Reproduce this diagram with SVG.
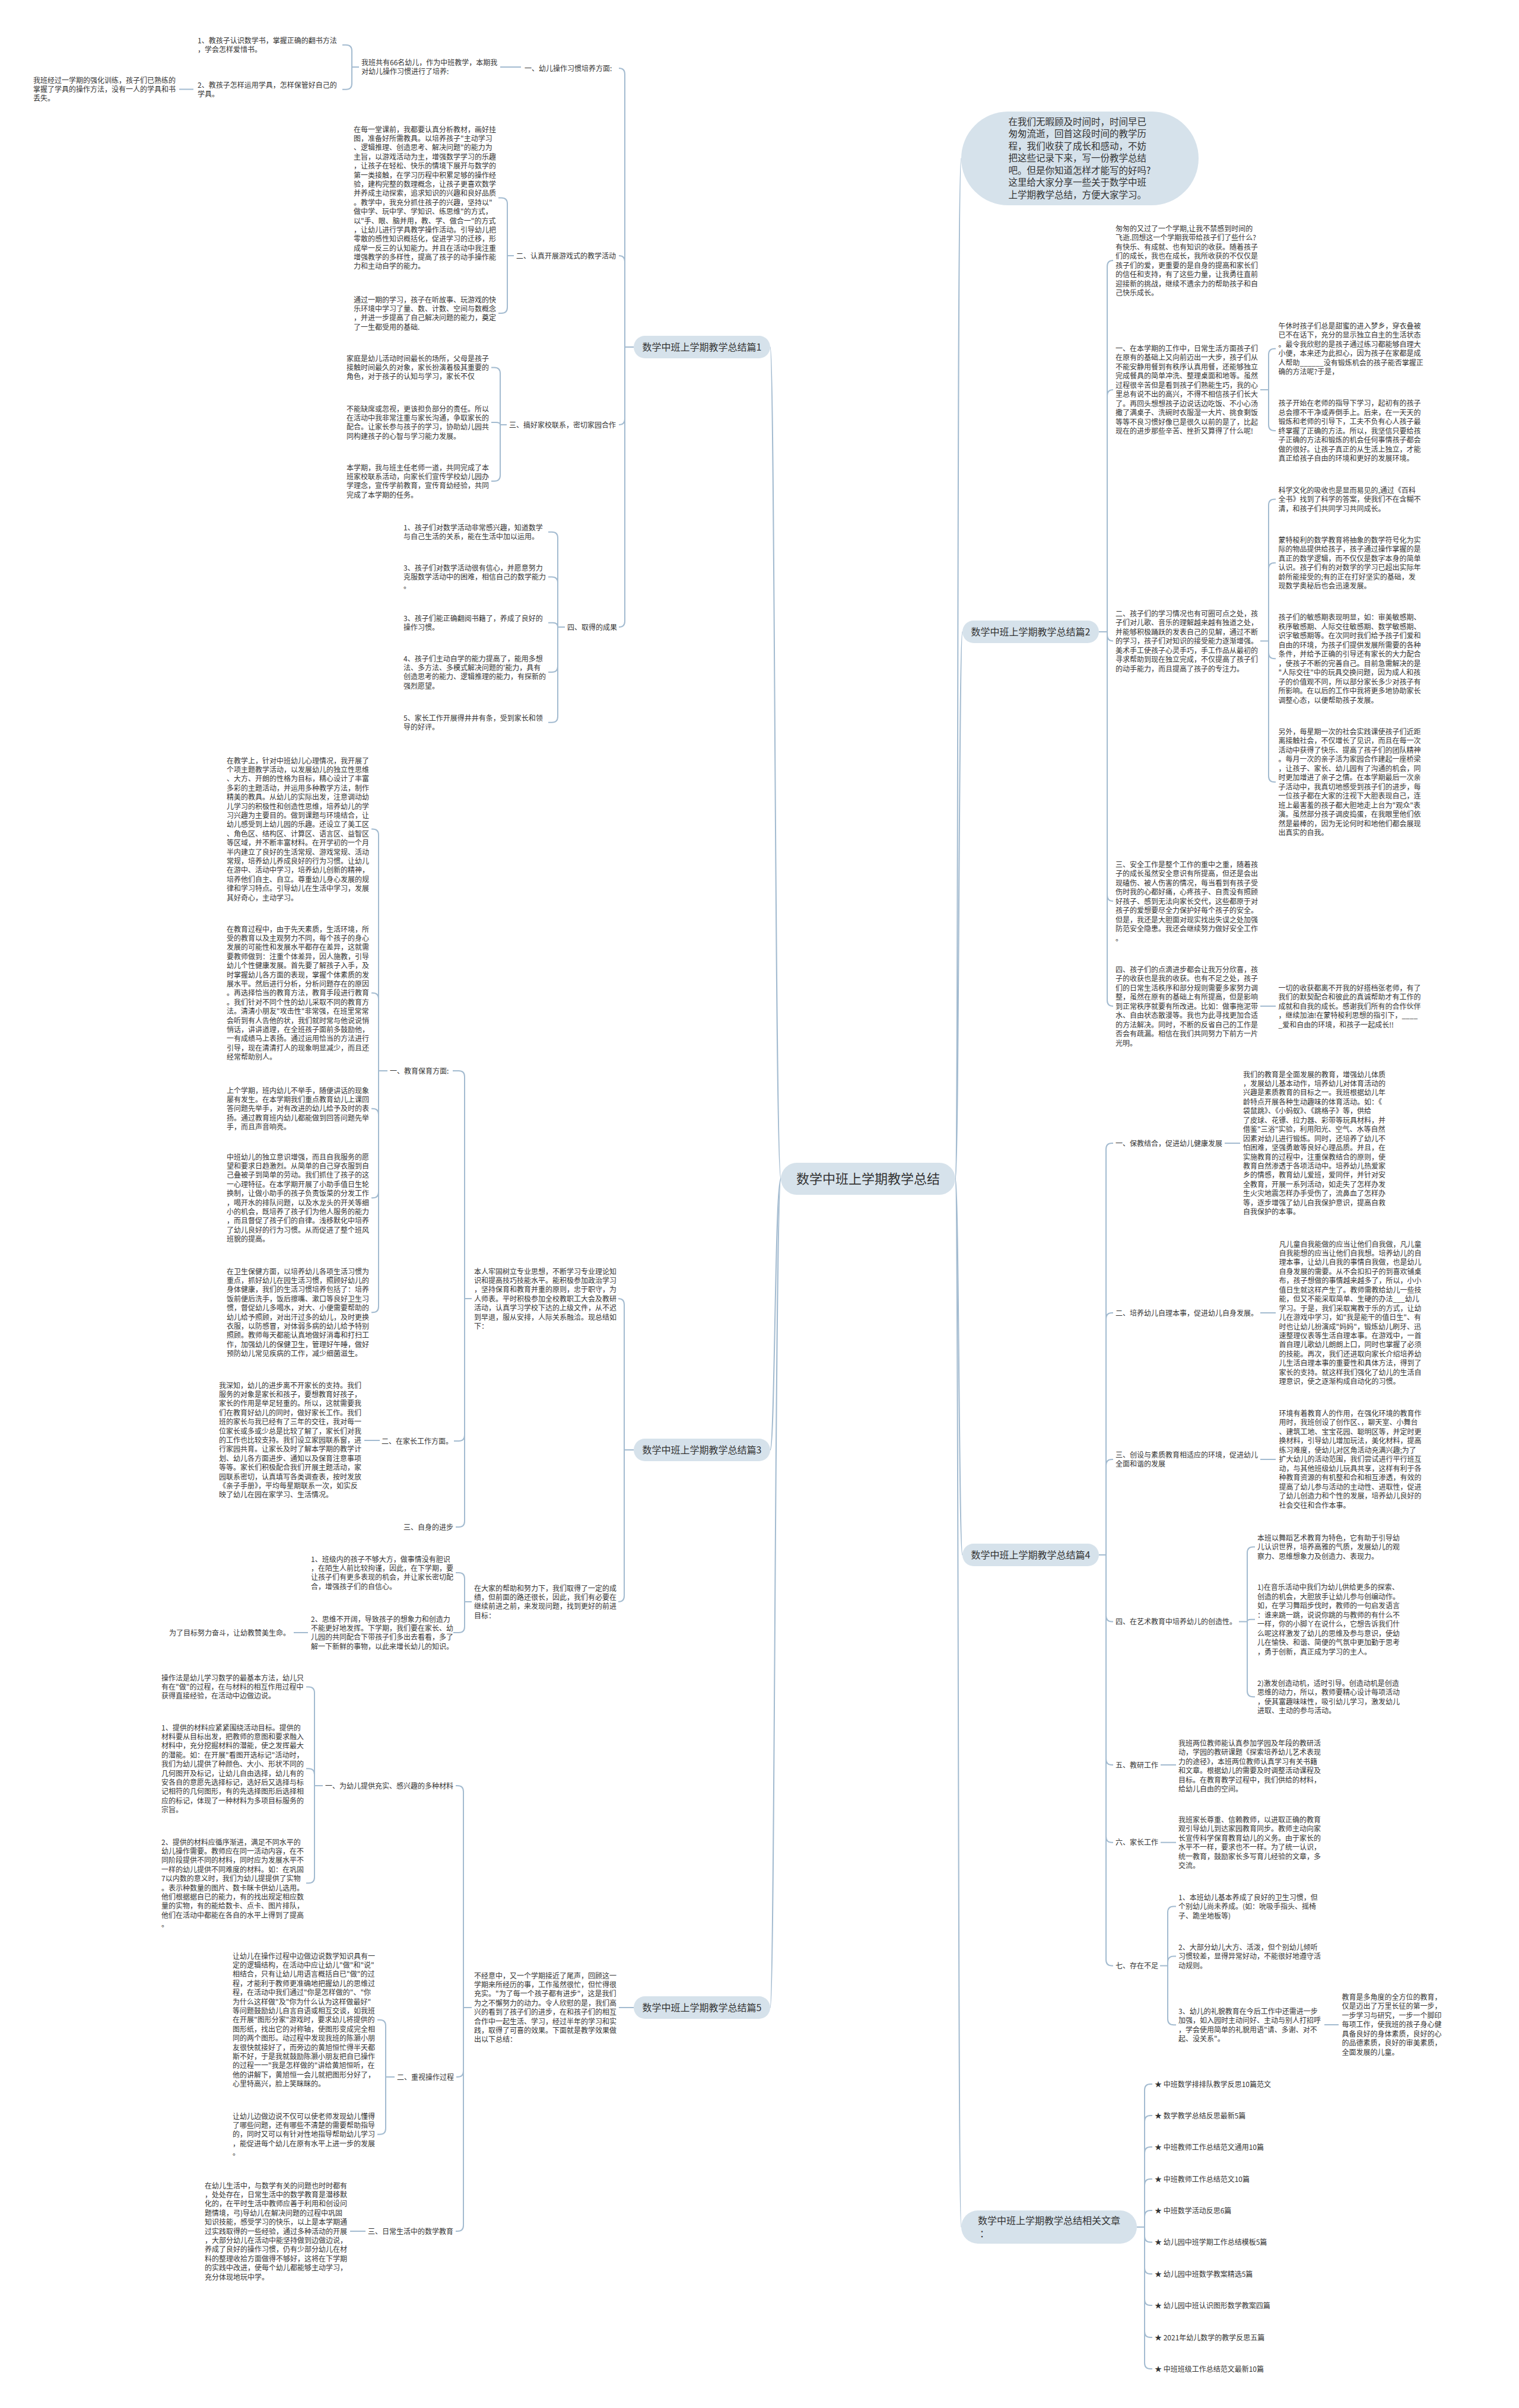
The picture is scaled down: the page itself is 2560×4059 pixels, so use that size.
<svg xmlns="http://www.w3.org/2000/svg" width="2560" height="4059" viewBox="0 0 2560 4059">
<style>
text{font-family:"Noto Sans CJK SC","Noto Sans",sans-serif;fill:#333;font-size:12px}
.h{font-size:16px}
.c{font-size:22px;text-anchor:middle}
.i{font-size:15.5px}
.n{fill:#d6e2eb}
.ln{fill:none;stroke:#a3bbd0;stroke-width:2}
</style>
<rect width="2560" height="4059" fill="#fff"/>
<g id="connectors" class="ln">
<path d="M1316,1987 C1306,1987 1306,585 1298,585"/>
<path d="M1316,1987 C1306,1987 1306,2444 1298,2444"/>
<path d="M1316,1987 C1306,1987 1306,3384 1298,3384"/>
<path d="M1610,1987 C1616,1987 1612,267 1620,267"/>
<path d="M1610,1987 C1616,1987 1616,1065 1622,1065"/>
<path d="M1610,1987 C1616,1987 1616,2621 1622,2621"/>
<path d="M1610,1987 C1616,1987 1614,3754 1620,3754"/>
<path d="M1068,585 H1053 M1053,585 V125 Q1053,115 1043,115 M1053,585 V441 Q1053,431 1043,431 M1053,585 V706 Q1053,716 1043,716 M1053,585 V1047 Q1053,1057 1043,1057"/>
<path d="M878,113 H843"/>
<path d="M605,113 H593 V85.7 Q593,75.7 583,75.7 H577 M593,113 V140.7 Q593,150.7 583,150.7 H577"/>
<path d="M326,150.5 H302"/>
<path d="M866,431 H855 V343.5 Q855,333.5 845,333.5 H840 M855,431 V518 Q855,528 845,528 H840"/>
<path d="M854,716 H843 V629.4 Q843,619.4 833,619.4 H828 M843,716 Q843,712 836,712 H828 M843,716 V801 Q843,811 833,811 H828"/>
<path d="M952,1057 H940 V906.7 Q940,896.7 930,896.7 H924 M940,1057 V982.4 Q940,972.4 930,972.4 H924 M940,1057 Q940,1049.7 932,1049.7 H924 M940,1057 V1123 Q940,1133 930,1133 H924 M940,1057 V1207.7 Q940,1217.7 930,1217.7 H924"/>
<path d="M1068,2444 H1052 M1052,2444 V2199 Q1052,2189 1042,2189 M1052,2444 V2690 Q1052,2700 1042,2700"/>
<path d="M795,2189 H783 M783,2189 V1815 Q783,1805 773,1805 H763 M783,2189 V2419 Q783,2429 773,2429 H765 M783,2189 V2564 Q783,2574 773,2574 H768"/>
<path d="M653,1805 H638 M638,1805 V1407.5 Q638,1397.5 628,1397.5 H626 M638,1805 V1683.8 Q638,1673.8 628,1673.8 H626 M638,1805 V1878.8 Q638,1868.8 628,1868.8 H626 M638,1805 V2009.3 Q638,2019.3 628,2019.3 H626 M638,1805 V2202.3 Q638,2212.3 628,2212.3 H626"/>
<path d="M640,2428 H614"/>
<path d="M795,2700 H783 M783,2700 V2661 Q783,2651 773,2651 H768 M783,2700 V2742 Q783,2752 773,2752 H764"/>
<path d="M519,2752 H495"/>
<path d="M1068,3384 H1043"/>
<path d="M795,3384 H781 M781,3384 V3020 Q781,3010 771,3010 H768 M781,3384 V3491 Q781,3501 771,3501 H769 M781,3384 V3751 Q781,3761 771,3761 H768"/>
<path d="M544,3010 H530 M530,3010 V2853.4 Q530,2843.4 520,2843.4 H516 M530,3010 V2991.3 Q530,2981.3 520,2981.3 H516 M530,3010 V3164.3 Q530,3174.3 520,3174.3 H516"/>
<path d="M665,3501 H650 M650,3501 V3414.8 Q650,3404.8 640,3404.8 H636 M650,3501 V3587.8 Q650,3597.8 640,3597.8 H636"/>
<path d="M616,3761 H590"/>
<path d="M1852,1065 H1866 M1866,1065 V449 Q1866,439 1876,439 M1866,1065 V667 Q1866,657 1876,657 M1866,1065 V1070.5 Q1866,1080.5 1876,1080.5 M1866,1065 V1509 Q1866,1519 1876,1519 M1866,1065 V1686 Q1866,1696 1876,1696"/>
<path d="M2124,657 H2138 M2138,657 V597.7 Q2138,587.7 2148,587.7 H2150 M2138,657 V716 Q2138,726 2148,726 H2150"/>
<path d="M2124,1080.5 H2138 M2138,1080.5 V851.5 Q2138,841.5 2148,841.5 H2150 M2138,1080.5 V958.7 Q2138,948.7 2148,948.7 H2150 M2138,1080.5 V1100.2 Q2138,1110.2 2148,1110.2 H2150 M2138,1080.5 V1308.2 Q2138,1318.2 2148,1318.2 H2150"/>
<path d="M2124,1696 H2150"/>
<path d="M1852,2621 H1864 M1864,2621 V1937 Q1864,1927 1874,1927 H1876 M1864,2621 V2223 Q1864,2213 1874,2213 H1876 M1864,2621 V2470 Q1864,2460 1874,2460 H1876 M1864,2621 V2723.5 Q1864,2733.5 1874,2733.5 H1876 M1864,2621 V2965 Q1864,2975 1874,2975 H1876 M1864,2621 V3095.7 Q1864,3105.7 1874,3105.7 H1876 M1864,2621 V3303.5 Q1864,3313.5 1874,3313.5 H1876"/>
<path d="M2064,1927 H2090"/>
<path d="M2124,2213 H2150"/>
<path d="M2124,2460 H2150"/>
<path d="M2088,2733.5 H2102 M2102,2733.5 V2617.5 Q2102,2607.5 2112,2607.5 H2115 M2102,2733.5 Q2102,2729.7 2108,2729.7 H2115 M2102,2733.5 V2850.2 Q2102,2860.2 2112,2860.2 H2115"/>
<path d="M1956,2975 H1982"/>
<path d="M1956,3105.7 H1982"/>
<path d="M1955,3313.5 H1968 M1968,3313.5 V3223.5 Q1968,3213.5 1978,3213.5 H1982 M1968,3313.5 V3307.5 Q1968,3297.5 1978,3297.5 H1982 M1968,3313.5 V3403.2 Q1968,3413.2 1978,3413.2 H1982"/>
<path d="M2232,3413 H2256"/>
<path d="M1916,3754 H1929 M1929,3754 V3523 Q1929,3513 1939,3513 H1942 M1929,3754 V3576 Q1929,3566 1939,3566 H1942 M1929,3754 V3629 Q1929,3619 1939,3619 H1942 M1929,3754 V3683 Q1929,3673 1939,3673 H1942 M1929,3754 V3736 Q1929,3726 1939,3726 H1942 M1929,3754 V3769.5 Q1929,3779.5 1939,3779.5 H1942 M1929,3754 V3823 Q1929,3833 1939,3833 H1942 M1929,3754 V3876 Q1929,3886 1939,3886 H1942 M1929,3754 V3930 Q1929,3940 1939,3940 H1942 M1929,3754 V3983 Q1929,3993 1939,3993 H1942"/>
</g>

<g id="center"><rect class="n" x="1316" y="1960" width="294" height="54" rx="27"/><text class="c" x="1463" y="1995">数学中班上学期教学总结</text></g>

<g id="p1"><rect class="n" x="1068" y="566" width="230" height="38" rx="19"/><text class="h" x="1183" y="590.5" text-anchor="middle">数学中班上学期教学总结篇1</text></g>
<g id="p1-1"><text x="884" y="119.5">一、幼儿操作习惯培养方面:</text></g>
<g id="p1-1a"><text x="609" y="109.5"><tspan x="609" dy="0">我班共有66名幼儿，作为中班教学，本期我</tspan><tspan x="609" dy="15.4">对幼儿操作习惯进行了培养:</tspan></text></g>
<g id="p1-1a1"><text x="333" y="72.5"><tspan x="333" dy="0">1、教孩子认识数学书，掌握正确的翻书方法</tspan><tspan x="333" dy="15.4">，学会怎样爱惜书。</tspan></text></g>
<g id="p1-1a2"><text x="333" y="147.5"><tspan x="333" dy="0">2、教孩子怎样运用学具，怎样保管好自己的</tspan><tspan x="333" dy="15.4">学具。</tspan></text></g>
<g id="p1-1a2a"><text x="56" y="139.5"><tspan x="56" dy="0">我班经过一学期的强化训练，孩子们已熟练的</tspan><tspan x="56" dy="15.4">掌握了学具的操作方法，没有一人的学具和书</tspan><tspan x="56" dy="15.4">丢失。</tspan></text></g>
<g id="p1-2"><text x="870" y="435.5">二、认真开展游戏式的教学活动</text></g>
<g id="p1-2a"><text x="596" y="222.5"><tspan x="596" dy="0">在每一堂课前，我都要认真分析教材，画好挂</tspan><tspan x="596" dy="15.4">图，准备好所需教具。以培养孩子"主动学习</tspan><tspan x="596" dy="15.4">、逻辑推理、创造思考、解决问题"的能力为</tspan><tspan x="596" dy="15.4">主旨，以游戏活动为主，增强数学学习的乐趣</tspan><tspan x="596" dy="15.4">，让孩子在轻松、快乐的情境下展开与数学的</tspan><tspan x="596" dy="15.4">第一类接触，在学习历程中积累足够的操作经</tspan><tspan x="596" dy="15.4">验，建构完整的数理概念，让孩子更喜欢数学</tspan><tspan x="596" dy="15.4">并养成主动探索，追求知识的兴趣和良好品质</tspan><tspan x="596" dy="15.4">。教学中，我充分抓住孩子的兴趣，坚持以"</tspan><tspan x="596" dy="15.4">做中学、玩中学、学知识、练思维"的方式，</tspan><tspan x="596" dy="15.4">以"手、眼、脑并用，教、学、做合一"的方式</tspan><tspan x="596" dy="15.4">，让幼儿进行学具教学操作活动。引导幼儿把</tspan><tspan x="596" dy="15.4">零散的感性知识概括化，促进学习的迁移，形</tspan><tspan x="596" dy="15.4">成举一反三的认知能力。并且在活动中我注重</tspan><tspan x="596" dy="15.4">增强教学的多样性，提高了孩子的动手操作能</tspan><tspan x="596" dy="15.4">力和主动自学的能力。</tspan></text></g>
<g id="p1-2b"><text x="596" y="509.5"><tspan x="596" dy="0">通过一期的学习，孩子在听故事、玩游戏的快</tspan><tspan x="596" dy="15.4">乐环境中学习了量、数、计数、空间与数概念</tspan><tspan x="596" dy="15.4">，并进一步提高了自己解决问题的能力，奠定</tspan><tspan x="596" dy="15.4">了一生都受用的基础.</tspan></text></g>
<g id="p1-3"><text x="858" y="720.5">三、搞好家校联系，密切家园合作</text></g>
<g id="p1-3a"><text x="584" y="608.5"><tspan x="584" dy="0">家庭是幼儿活动时间最长的场所，父母是孩子</tspan><tspan x="584" dy="15.4">接触时间最久的对象，家长扮演着极其重要的</tspan><tspan x="584" dy="15.4">角色，对于孩子的认知与学习，家长不仅</tspan></text></g>
<g id="p1-3b"><text x="584" y="693.5"><tspan x="584" dy="0">不能缺席或忽视，更该担负部分的责任。所以</tspan><tspan x="584" dy="15.4">在活动中我非常注重与家长沟通，争取家长的</tspan><tspan x="584" dy="15.4">配合。让家长参与孩子的学习，协助幼儿园共</tspan><tspan x="584" dy="15.4">同构建孩子的心智与学习能力发展。</tspan></text></g>
<g id="p1-3c"><text x="584" y="792.5"><tspan x="584" dy="0">本学期，我与班主任老师一道，共同完成了本</tspan><tspan x="584" dy="15.4">班家校联系活动，向家长们宣传学校幼儿园办</tspan><tspan x="584" dy="15.4">学理念，宣传学前教育，宣传育幼经验，共同</tspan><tspan x="584" dy="15.4">完成了本学期的任务。</tspan></text></g>
<g id="p1-4"><text x="956" y="1061.5">四、取得的成果</text></g>
<g id="p1-4a"><text x="680" y="893.5"><tspan x="680" dy="0">1、孩子们对数学活动非常感兴趣，知道数学</tspan><tspan x="680" dy="15.4">与自己生活的关系，能在生活中加以运用。</tspan></text></g>
<g id="p1-4b"><text x="680" y="961.5"><tspan x="680" dy="0">3、孩子们对数学活动很有信心，并愿意努力</tspan><tspan x="680" dy="15.4">克服数学活动中的困难，相信自己的数学能力</tspan><tspan x="680" dy="15.4">。</tspan></text></g>
<g id="p1-4c"><text x="680" y="1046.5"><tspan x="680" dy="0">3、孩子们能正确翻阅书籍了，养成了良好的</tspan><tspan x="680" dy="15.4">操作习惯。</tspan></text></g>
<g id="p1-4d"><text x="680" y="1114.5"><tspan x="680" dy="0">4、孩子们主动自学的能力提高了，能用多想</tspan><tspan x="680" dy="15.4">法、多方法、多模式解决问题的'能力，具有</tspan><tspan x="680" dy="15.4">创造思考的能力、逻辑推理的能力，有探新的</tspan><tspan x="680" dy="15.4">强烈愿望。</tspan></text></g>
<g id="p1-4e"><text x="680" y="1214.5"><tspan x="680" dy="0">5、家长工作开展得井井有条，受到家长和领</tspan><tspan x="680" dy="15.4">导的好评。</tspan></text></g>

<g id="p3"><rect class="n" x="1068" y="2425" width="230" height="38" rx="19"/><text class="h" x="1183" y="2449.5" text-anchor="middle">数学中班上学期教学总结篇3</text></g>
<g id="p3-a"><text x="799" y="2147.5"><tspan x="799" dy="0">本人牢固树立专业思想，不断学习专业理论知</tspan><tspan x="799" dy="15.4">识和提高技巧技能水平。能积极参加政治学习</tspan><tspan x="799" dy="15.4">，坚持保育和教育并重的原则，忠于职守，为</tspan><tspan x="799" dy="15.4">人师表。平时积极参加全校教职工大会及教研</tspan><tspan x="799" dy="15.4">活动，认真学习学校下达的上级文件，从不迟</tspan><tspan x="799" dy="15.4">到早退，服从安排，人际关系融洽。现总结如</tspan><tspan x="799" dy="15.4">下：</tspan></text></g>
<g id="p3-a1"><text x="657" y="1809.5">一、教育保育方面:</text></g>
<g id="p3-a1a"><text x="382" y="1286.5"><tspan x="382" dy="0">在教学上，针对中班幼儿心理情况，我开展了</tspan><tspan x="382" dy="15.4">个项主题教学活动，以发展幼儿的独立性思维</tspan><tspan x="382" dy="15.4">、大方、开朗的性格为目标，精心设计了丰富</tspan><tspan x="382" dy="15.4">多彩的主题活动，并运用多种教学方法，制作</tspan><tspan x="382" dy="15.4">精美的教具。从幼儿的实际出发，注意调动幼</tspan><tspan x="382" dy="15.4">儿学习的积极性和创造性思维，培养幼儿的学</tspan><tspan x="382" dy="15.4">习兴趣为主要目的。做到课题与环境结合，让</tspan><tspan x="382" dy="15.4">幼儿感受到上幼儿园的乐趣。还设立了美工区</tspan><tspan x="382" dy="15.4">、角色区、结构区、计算区、语言区、益智区</tspan><tspan x="382" dy="15.4">等区域，并不断丰富材料。在开学初的一个月</tspan><tspan x="382" dy="15.4">半内建立了良好的生活常规、游戏常规、活动</tspan><tspan x="382" dy="15.4">常规，培养幼儿养成良好的行为习惯。让幼儿</tspan><tspan x="382" dy="15.4">在游中、活动中学习，培养幼儿创新的精神，</tspan><tspan x="382" dy="15.4">培养他们自主、自立。尊重幼儿身心发展的规</tspan><tspan x="382" dy="15.4">律和学习特点。引导幼儿在生活中学习，发展</tspan><tspan x="382" dy="15.4">其好奇心，主动学习。</tspan></text></g>
<g id="p3-a1b"><text x="382" y="1570.5"><tspan x="382" dy="0">在教育过程中，由于先天素质，生活环境，所</tspan><tspan x="382" dy="15.4">受的教育以及主观努力不同，每个孩子的身心</tspan><tspan x="382" dy="15.4">发展的可能性和发展水平都存在差异，这就需</tspan><tspan x="382" dy="15.4">要教师做到：注重个体差异，因人施教，引导</tspan><tspan x="382" dy="15.4">幼儿个性健康发展。首先要了解孩子入手，及</tspan><tspan x="382" dy="15.4">时掌握幼儿各方面的表现，掌握个体素质的发</tspan><tspan x="382" dy="15.4">展水平。然后进行分析，分析问题存在的原因</tspan><tspan x="382" dy="15.4">。再选择恰当的教育方法，教育手段进行教育</tspan><tspan x="382" dy="15.4">。我们针对不同个性的幼儿采取不同的教育方</tspan><tspan x="382" dy="15.4">法。清清小朋友"攻击性"非常强，在班里常常</tspan><tspan x="382" dy="15.4">会听到有人告他的状，我们就时常与他说说悄</tspan><tspan x="382" dy="15.4">悄话，讲讲道理，在全班孩子面前多鼓励他，</tspan><tspan x="382" dy="15.4">一有成绩马上表扬。通过运用恰当的方法进行</tspan><tspan x="382" dy="15.4">引导，现在清清打人的现象明显减少，而且还</tspan><tspan x="382" dy="15.4">经常帮助别人。</tspan></text></g>
<g id="p3-a1c"><text x="382" y="1842.5"><tspan x="382" dy="0">上个学期，班内幼儿不举手，随便讲话的现象</tspan><tspan x="382" dy="15.4">屡有发生。在本学期我们重点教育幼儿上课回</tspan><tspan x="382" dy="15.4">答问题先举手，对有改进的幼儿给予及时的表</tspan><tspan x="382" dy="15.4">扬。通过教育班内幼儿都能做到回答问题先举</tspan><tspan x="382" dy="15.4">手，而且声音响亮。</tspan></text></g>
<g id="p3-a1d"><text x="382" y="1954.5"><tspan x="382" dy="0">中班幼儿的独立意识增强，而且自我服务的愿</tspan><tspan x="382" dy="15.4">望和要求日趋激烈。从简单的自己穿衣服到自</tspan><tspan x="382" dy="15.4">己叠被子到简单的劳动。我们抓住了孩子的这</tspan><tspan x="382" dy="15.4">一心理特征。在本学期开展了小助手值日生轮</tspan><tspan x="382" dy="15.4">换制，让做小助手的孩子负责饭菜的分发工作</tspan><tspan x="382" dy="15.4">，喝开水的排队问题，以及水龙头的开关等细</tspan><tspan x="382" dy="15.4">小的机会，既培养了孩子们为他人服务的能力</tspan><tspan x="382" dy="15.4">，而且督促了孩子们的自律。浅移默化中培养</tspan><tspan x="382" dy="15.4">了幼儿良好的行为习惯。从而促进了整个班风</tspan><tspan x="382" dy="15.4">班貌的提高。</tspan></text></g>
<g id="p3-a1e"><text x="382" y="2147.5"><tspan x="382" dy="0">在卫生保健方面，以培养幼儿各项生活习惯为</tspan><tspan x="382" dy="15.4">重点，抓好幼儿在园生活习惯，照顾好幼儿的</tspan><tspan x="382" dy="15.4">身体健康，我们的生活习惯培养包括了：培养</tspan><tspan x="382" dy="15.4">饭前便后洗手，饭后擦嘴、漱口等良好卫生习</tspan><tspan x="382" dy="15.4">惯，督促幼儿多喝水，对大、小便需要帮助的</tspan><tspan x="382" dy="15.4">幼儿给予照顾，对出汗过多的幼儿，及时更换</tspan><tspan x="382" dy="15.4">衣服，以防感冒，对体弱多病的幼儿给予特别</tspan><tspan x="382" dy="15.4">照顾。教师每天都能认真地做好消毒和打扫工</tspan><tspan x="382" dy="15.4">作，加强幼儿的保健卫生，管理好午睡，做好</tspan><tspan x="382" dy="15.4">预防幼儿常见疾病的工作，减少细菌滋生。</tspan></text></g>
<g id="p3-a2"><text x="643" y="2433.5">二、在家长工作方面。</text></g>
<g id="p3-a2a"><text x="369" y="2339.5"><tspan x="369" dy="0">我深知，幼儿的进步离不开家长的支持。我们</tspan><tspan x="369" dy="15.4">服务的对象是家长和孩子，要想教育好孩子，</tspan><tspan x="369" dy="15.4">家长的作用是举足轻重的。所以，这就需要我</tspan><tspan x="369" dy="15.4">们在教育好幼儿的同时，做好家长工作。我们</tspan><tspan x="369" dy="15.4">班的家长与我已经有了三年的交往，我对每一</tspan><tspan x="369" dy="15.4">位家长或多或少总是比较了解了，家长们对我</tspan><tspan x="369" dy="15.4">的工作也比较支持。我们设立家园联系窗，进</tspan><tspan x="369" dy="15.4">行家园共育。让家长及时了解本学期的教学计</tspan><tspan x="369" dy="15.4">划、幼儿各方面进步、通知以及保育注意事项</tspan><tspan x="369" dy="15.4">等等。家长们积极配合我们开展主题活动，家</tspan><tspan x="369" dy="15.4">园联系密切，认真填写各类调查表，按时发放</tspan><tspan x="369" dy="15.4">《亲子手册》，平均每星期联系一次，如实反</tspan><tspan x="369" dy="15.4">映了幼儿在园在家学习、生活情况。</tspan></text></g>
<g id="p3-a3"><text x="680" y="2578.5">三、自身的进步</text></g>
<g id="p3-b"><text x="799" y="2681.5"><tspan x="799" dy="0">在大家的帮助和努力下，我们取得了一定的成</tspan><tspan x="799" dy="15.4">绩，但前面的路还很长，因此，我们有必要在</tspan><tspan x="799" dy="15.4">继续前进之前，来发现问题，找到更好的前进</tspan><tspan x="799" dy="15.4">目标：</tspan></text></g>
<g id="p3-b1"><text x="524" y="2632.5"><tspan x="524" dy="0">1、班级内的孩子不够大方，做事情没有胆识</tspan><tspan x="524" dy="15.4">，在陌生人前比较拘谨，因此，在下学期，要</tspan><tspan x="524" dy="15.4">让孩子们有更多表现的机会，并让家长密切配</tspan><tspan x="524" dy="15.4">合，增强孩子们的自信心。</tspan></text></g>
<g id="p3-b2"><text x="524" y="2733.5"><tspan x="524" dy="0">2、思维不开阔，导致孩子的想象力和创造力</tspan><tspan x="524" dy="15.4">不能更好地发挥。下学期，我们要在家长、幼</tspan><tspan x="524" dy="15.4">儿园的共同配合下带孩子们多出去看看，多了</tspan><tspan x="524" dy="15.4">解一下新鲜的事物，以此来增长幼儿的知识。</tspan></text></g>
<g id="p3-b2a"><text x="285" y="2756.5">为了目标努力奋斗，让幼教赞美生命。</text></g>

<g id="p5"><rect class="n" x="1068" y="3365" width="230" height="38" rx="19"/><text class="h" x="1183" y="3389.5" text-anchor="middle">数学中班上学期教学总结篇5</text></g>
<g id="p5-a"><text x="799" y="3334.5"><tspan x="799" dy="0">不经意中，又一个学期接近了尾声，回顾这一</tspan><tspan x="799" dy="15.4">学期来所经历的事，工作虽然很忙，但忙得很</tspan><tspan x="799" dy="15.4">充实。"为了每一个孩子都有进步"，这是我们</tspan><tspan x="799" dy="15.4">为之不懈努力的动力。令人欣慰的是，我们高</tspan><tspan x="799" dy="15.4">兴的看到了孩子们的进步，在和孩子们的相互</tspan><tspan x="799" dy="15.4">合作中一起生活、学习，经过半年的学习和实</tspan><tspan x="799" dy="15.4">践，取得了可喜的效果。下面就是教学效果做</tspan><tspan x="799" dy="15.4">出以下总结：</tspan></text></g>
<g id="p5-a1"><text x="548" y="3014.5">一、为幼儿提供充实、感兴趣的多种材料</text></g>
<g id="p5-a1a"><text x="272" y="2832.5"><tspan x="272" dy="0">操作法是幼儿学习数学的最基本方法，幼儿只</tspan><tspan x="272" dy="15.4">有在"做"的过程，在与材料的相互作用过程中</tspan><tspan x="272" dy="15.4">获得直接经验，在活动中边做边说。</tspan></text></g>
<g id="p5-a1b"><text x="272" y="2916.5"><tspan x="272" dy="0">1、提供的材料应紧紧围绕活动目标。提供的</tspan><tspan x="272" dy="15.4">材料要从目标出发，把教师的意图和要求融入</tspan><tspan x="272" dy="15.4">材料中，充分挖掘材料的潜能，使之发挥最大</tspan><tspan x="272" dy="15.4">的潜能。如：在开展"看图开选标记"活动时，</tspan><tspan x="272" dy="15.4">我们为幼儿提供了种颜色、大小、形状不同的</tspan><tspan x="272" dy="15.4">几何图开及标记，让幼儿自由选择，幼儿有的</tspan><tspan x="272" dy="15.4">安各自的意愿先选择标记，选好后又选择与标</tspan><tspan x="272" dy="15.4">记相符的几何图形，有的先选择图形后选择相</tspan><tspan x="272" dy="15.4">应的标记，体现了一种材料为多项目标服务的</tspan><tspan x="272" dy="15.4">宗旨。</tspan></text></g>
<g id="p5-a1c"><text x="272" y="3109.5"><tspan x="272" dy="0">2、提供的材料应循序渐进，满足不同水平的</tspan><tspan x="272" dy="15.4">幼儿操作需要。教师应在同一活动内容，在不</tspan><tspan x="272" dy="15.4">同阶段提供不同的材料，同时应为发展水平不</tspan><tspan x="272" dy="15.4">一样的幼儿提供不同难度的材料。如：在巩固</tspan><tspan x="272" dy="15.4">7以内数的意义时，我们为幼儿提提供了实物</tspan><tspan x="272" dy="15.4">。表示种数量的图片、数卡眯卡供幼儿选用。</tspan><tspan x="272" dy="15.4">他们根据据自已的能力，有的找出规定相应数</tspan><tspan x="272" dy="15.4">量的实物，有的能给数卡、点卡、图片排队，</tspan><tspan x="272" dy="15.4">他们在活动中都能在各自的水平上得到了提高</tspan><tspan x="272" dy="15.4">。</tspan></text></g>
<g id="p5-a2"><text x="669" y="3505.5">二、重视操作过程</text></g>
<g id="p5-a2a"><text x="392" y="3301.5"><tspan x="392" dy="0">让幼儿在操作过程中边做边说数学知识具有一</tspan><tspan x="392" dy="15.4">定的逻辑结构，在活动中应让幼儿"做"和"说"</tspan><tspan x="392" dy="15.4">相结合，只有让幼儿用语言概括自已"做"的过</tspan><tspan x="392" dy="15.4">程，才能利于教师更准确地把握幼儿的思维过</tspan><tspan x="392" dy="15.4">程，在活动中我们通过"你是怎样做的"、"你</tspan><tspan x="392" dy="15.4">为什么这样做"及"你为什么认为这样做最好"</tspan><tspan x="392" dy="15.4">等问题鼓励幼儿自言自语或相互交谈，如我班</tspan><tspan x="392" dy="15.4">在开展"图形分家"游戏时，要求幼儿将提供的</tspan><tspan x="392" dy="15.4">图形纸，找出它的对称轴，使图形变成完全相</tspan><tspan x="392" dy="15.4">同的两个图形。动过程中发现我班的陈灏小朋</tspan><tspan x="392" dy="15.4">友很快就接好了，而旁边的黄旭恒忙得半天都</tspan><tspan x="392" dy="15.4">斯不好，于是我就鼓励陈灏小朋友把自已操作</tspan><tspan x="392" dy="15.4">的过程一一"我是怎样做的"讲给黄旭恒听，在</tspan><tspan x="392" dy="15.4">他的讲解下，黄旭恒一会儿就把图形分好了，</tspan><tspan x="392" dy="15.4">心里特高兴，脸上笑眯眯的。</tspan></text></g>
<g id="p5-a2b"><text x="392" y="3571.5"><tspan x="392" dy="0">让幼儿边做边说不仅可以使老师发现幼儿懂得</tspan><tspan x="392" dy="15.4">了哪些问题，还有哪些不清楚的需要帮助指导</tspan><tspan x="392" dy="15.4">的，同时又可以有针对性地指导帮助幼儿学习</tspan><tspan x="392" dy="15.4">，能促进每个幼儿在原有水平上进一步的发展</tspan><tspan x="392" dy="15.4">。</tspan></text></g>
<g id="p5-a3"><text x="620" y="3765.5">三、日常生活中的数学教育</text></g>
<g id="p5-a3a"><text x="345" y="3688.5"><tspan x="345" dy="0">在幼儿生活中，与数学有关的问题也时时都有</tspan><tspan x="345" dy="15.4">，处处存在，日常生活中的数学教育是潜移默</tspan><tspan x="345" dy="15.4">化的，在平时生活中教师应善于利用和创设问</tspan><tspan x="345" dy="15.4">题情境，弓}导幼儿在解决问题的过程中巩固</tspan><tspan x="345" dy="15.4">知识技能，感受学习的快乐，以上是本学期通</tspan><tspan x="345" dy="15.4">过实践取得的一些经验，通过多种活动的开展</tspan><tspan x="345" dy="15.4">，大部分幼儿在活动中能坚持做到边做边说，</tspan><tspan x="345" dy="15.4">养成了良好的操作习惯，仍有少部分幼儿在材</tspan><tspan x="345" dy="15.4">料的整理收拾方面做得不够好，这将在下学期</tspan><tspan x="345" dy="15.4">的实践中改进，使每个幼儿都能够主动学习，</tspan><tspan x="345" dy="15.4">充分体现地玩中学。</tspan></text></g>

<g id="intro"><rect class="n" x="1620" y="188" width="400" height="158" rx="79"/><text class="i" x="1699.5" y="210.5"><tspan x="1699.5" dy="0">在我们无暇顾及时间时，时间早已</tspan><tspan x="1699.5" dy="20.5">匆匆流逝，回首这段时间的教学历</tspan><tspan x="1699.5" dy="20.5">程，我们收获了成长和感动，不妨</tspan><tspan x="1699.5" dy="20.5">把这些记录下来，写一份教学总结</tspan><tspan x="1699.5" dy="20.5">吧。但是你知道怎样才能写的好吗?</tspan><tspan x="1699.5" dy="20.5">这里给大家分享一些关于数学中班</tspan><tspan x="1699.5" dy="20.5">上学期教学总结，方便大家学习。</tspan></text></g>

<g id="p2"><rect class="n" x="1622" y="1046" width="230" height="38" rx="19"/><text class="h" x="1737" y="1070.5" text-anchor="middle">数学中班上学期教学总结篇2</text></g>
<g id="p2-a"><text x="1880" y="389.5"><tspan x="1880" dy="0">匆匆的又过了一个学期,让我不禁感到时间的</tspan><tspan x="1880" dy="15.5">飞逝.回想这一个学期我带给孩子们了些什么?</tspan><tspan x="1880" dy="15.5">有快乐、有成就、也有知识的收获。随着孩子</tspan><tspan x="1880" dy="15.5">们的成长，我也在成长，我所收获的不仅仅是</tspan><tspan x="1880" dy="15.5">孩子们的爱，更重要的是自身的提高和家长们</tspan><tspan x="1880" dy="15.5">的信任和支持，有了这些力量，让我勇往直前</tspan><tspan x="1880" dy="15.5">迎接新的挑战，继续不遗余力的帮助孩子和自</tspan><tspan x="1880" dy="15.5">己快乐成长。</tspan></text></g>
<g id="p2-b"><text x="1880" y="591.5"><tspan x="1880" dy="0">一、在本学期的工作中，日常生活方面孩子们</tspan><tspan x="1880" dy="15.5">在原有的基础上又向前迈出一大步，孩子们从</tspan><tspan x="1880" dy="15.5">不能安静用餐到有秩序认真用餐，还能够独立</tspan><tspan x="1880" dy="15.5">完成餐具的简单冲洗、整理桌面和地等。虽然</tspan><tspan x="1880" dy="15.5">过程很辛苦但是看到孩子们熟能生巧，我的心</tspan><tspan x="1880" dy="15.5">里总有说不出的高兴，不得不相信孩子们长大</tspan><tspan x="1880" dy="15.5">了。再回头想想孩子边说话边吃饭、不小心汤</tspan><tspan x="1880" dy="15.5">撒了满桌子、洗碗时衣服湿一大片、挑食剩饭</tspan><tspan x="1880" dy="15.5">等等不良习惯好像已是很久以前的是了，比起</tspan><tspan x="1880" dy="15.5">现在的进步那些辛苦、挫折又算得了什么呢!</tspan></text></g>
<g id="p2-b1"><text x="2154.5" y="553.5"><tspan x="2154.5" dy="0">午休时孩子们总是甜蜜的进入梦乡，穿衣叠被</tspan><tspan x="2154.5" dy="15.5">已不在话下，充分的显示独立自主的生活状态</tspan><tspan x="2154.5" dy="15.5">。最令我欣慰的是孩子通过练习都能够自理大</tspan><tspan x="2154.5" dy="15.5">小便，本来还为此担心，因为孩子在家都是成</tspan><tspan x="2154.5" dy="15.5">人帮助______没有锻炼机会的孩子能否掌握正</tspan><tspan x="2154.5" dy="15.5">确的方法呢?于是，</tspan></text></g>
<g id="p2-b2"><text x="2154.5" y="684"><tspan x="2154.5" dy="0">孩子开始在老师的指导下学习，起初有的孩子</tspan><tspan x="2154.5" dy="15.5">总会擦不干净或弄倒手上。后来，在一天天的</tspan><tspan x="2154.5" dy="15.5">锻炼和老师的引导下，工夫不负有心人孩子最</tspan><tspan x="2154.5" dy="15.5">终掌握了正确的方法。所以，我坚信只要给孩</tspan><tspan x="2154.5" dy="15.5">子正确的方法和锻炼的机会任何事情孩子都会</tspan><tspan x="2154.5" dy="15.5">做的很好。让孩子真正的从生活上独立，才能</tspan><tspan x="2154.5" dy="15.5">真正给孩子自由的环境和更好的发展环境。</tspan></text></g>
<g id="p2-c"><text x="1880" y="1038.5"><tspan x="1880" dy="0">二、孩子们的学习情况也有可圈可点之处，孩</tspan><tspan x="1880" dy="15.5">子们对儿歌、音乐的理解越来越有独道之处，</tspan><tspan x="1880" dy="15.5">并能够积极踊跃的发表自己的见解，通过不断</tspan><tspan x="1880" dy="15.5">的学习，孩子们对知识的接受能力逐渐增强。</tspan><tspan x="1880" dy="15.5">美术手工使孩子心灵手巧，手工作品从最初的</tspan><tspan x="1880" dy="15.5">寻求帮助到现在独立完成，不仅提高了孩子们</tspan><tspan x="1880" dy="15.5">的动手能力，而且提高了孩子的专注力。</tspan></text></g>
<g id="p2-c1"><text x="2154.5" y="830.5"><tspan x="2154.5" dy="0">科学文化的吸收也是显而易见的,通过《百科</tspan><tspan x="2154.5" dy="15.5">全书》找到了科学的答案，使我们不在含糊不</tspan><tspan x="2154.5" dy="15.5">清，和孩子们共同学习共同成长。</tspan></text></g>
<g id="p2-c2"><text x="2154.5" y="914.5"><tspan x="2154.5" dy="0">蒙特梭利的数学教育将抽象的数学符号化为实</tspan><tspan x="2154.5" dy="15.5">际的物品提供给孩子，孩子通过操作掌握的是</tspan><tspan x="2154.5" dy="15.5">真正的数学逻辑，而不仅仅是数字本身的简单</tspan><tspan x="2154.5" dy="15.5">认识。孩子们有的对数学的学习已超出实际年</tspan><tspan x="2154.5" dy="15.5">龄所能接受的;有的正在打好坚实的基础，发</tspan><tspan x="2154.5" dy="15.5">现数学奥秘后也会迅速发展。</tspan></text></g>
<g id="p2-c3"><text x="2154.5" y="1045"><tspan x="2154.5" dy="0">孩子们的敏感期表现明显，如：审美敏感期、</tspan><tspan x="2154.5" dy="15.5">秩序敏感期、人际交往敏感期、数学敏感期、</tspan><tspan x="2154.5" dy="15.5">识字敏感期等。在次同时我们给予孩子们爱和</tspan><tspan x="2154.5" dy="15.5">自由的环境，为孩子们提供发展所需要的各种</tspan><tspan x="2154.5" dy="15.5">条件，并给予正确的引导还有家长的大力配合</tspan><tspan x="2154.5" dy="15.5">，使孩子不断的完善自己。目前急需解决的是</tspan><tspan x="2154.5" dy="15.5">"人际交往"中的玩具交换问题，因为成人和孩</tspan><tspan x="2154.5" dy="15.5">子的价值观不同，所以部分家长多少对孩子有</tspan><tspan x="2154.5" dy="15.5">所影响。在以后的工作中我将更多地协助家长</tspan><tspan x="2154.5" dy="15.5">调整心态，以便帮助孩子发展。</tspan></text></g>
<g id="p2-c4"><text x="2154.5" y="1237.5"><tspan x="2154.5" dy="0">另外，每星期一次的社会实践课使孩子们近距</tspan><tspan x="2154.5" dy="15.5">离接触社会，不仅增长了见识，而且在每一次</tspan><tspan x="2154.5" dy="15.5">活动中获得了快乐、提高了孩子们的团队精神</tspan><tspan x="2154.5" dy="15.5">。每月一次的亲子活为家园合作建起一座桥梁</tspan><tspan x="2154.5" dy="15.5">，让孩子、家长、幼儿园有了沟通的机会，同</tspan><tspan x="2154.5" dy="15.5">时更加增进了亲子之情。在本学期最后一次亲</tspan><tspan x="2154.5" dy="15.5">子活动中，我真切地感受到孩子们的进步，每</tspan><tspan x="2154.5" dy="15.5">一位孩子都在大家的注视下大胆表现自己，连</tspan><tspan x="2154.5" dy="15.5">班上最害羞的孩子都大胆地走上台为"观众"表</tspan><tspan x="2154.5" dy="15.5">演。虽然部分孩子调皮捣蛋，在我眼里他们依</tspan><tspan x="2154.5" dy="15.5">然是最棒的，因为无论何时和地他们都会展现</tspan><tspan x="2154.5" dy="15.5">出真实的自我。</tspan></text></g>
<g id="p2-d"><text x="1880" y="1461.5"><tspan x="1880" dy="0">三、安全工作是整个工作的重中之重，随着孩</tspan><tspan x="1880" dy="15.5">子的成长虽然安全意识有所提高，但还是会出</tspan><tspan x="1880" dy="15.5">现磕伤、被人伤害的情况，每当看到有孩子受</tspan><tspan x="1880" dy="15.5">伤时我的心都好痛，心疼孩子、自责没有照顾</tspan><tspan x="1880" dy="15.5">好孩子、感到无法向家长交代，这些都原于对</tspan><tspan x="1880" dy="15.5">孩子的爱想要尽全力保护好每个孩子的安全。</tspan><tspan x="1880" dy="15.5">但是，我还是大胆面对现实找出失误之处加强</tspan><tspan x="1880" dy="15.5">防范安全隐患。我还会继续努力做好安全工作</tspan><tspan x="1880" dy="15.5">。</tspan></text></g>
<g id="p2-e"><text x="1880" y="1638.5"><tspan x="1880" dy="0">四、孩子们的点滴进步都会让我万分欣喜，孩</tspan><tspan x="1880" dy="15.5">子的收获也是我的收获。也有不足之处，孩子</tspan><tspan x="1880" dy="15.5">们的日常生活秩序和部分规则需要多家努力调</tspan><tspan x="1880" dy="15.5">整，虽然在原有的基础上有所提高，但是影响</tspan><tspan x="1880" dy="15.5">到正常秩序就要有所改进。比如：做事拖泥带</tspan><tspan x="1880" dy="15.5">水、自由状态散漫等。我也为此寻找更加合适</tspan><tspan x="1880" dy="15.5">的方法解决。同时，不断的反省自己的工作是</tspan><tspan x="1880" dy="15.5">否会有疏漏。相信在我们共同努力下前方一片</tspan><tspan x="1880" dy="15.5">光明。</tspan></text></g>
<g id="p2-e1"><text x="2154.5" y="1669.5"><tspan x="2154.5" dy="0">一切的收获都离不开我的好搭档张老师，有了</tspan><tspan x="2154.5" dy="15.5">我们的默契配合和彼此的真诚帮助才有工作的</tspan><tspan x="2154.5" dy="15.5">成就和自我的成长。感谢我们所有的合作伙伴</tspan><tspan x="2154.5" dy="15.5">，继续加油!在蒙特梭利思想的指引下，____</tspan><tspan x="2154.5" dy="15.5">_爱和自由的环境，和孩子一起成长!!</tspan></text></g>

<g id="p4"><rect class="n" x="1622" y="2602" width="230" height="38" rx="19"/><text class="h" x="1737" y="2626.5" text-anchor="middle">数学中班上学期教学总结篇4</text></g>
<g id="p4-1"><text x="1880" y="1931.5">一、保教结合，促进幼儿健康发展</text></g>
<g id="p4-1a"><text x="2095" y="1815.5"><tspan x="2095" dy="0">我们的教育是全面发展的教育，增强幼儿体质</tspan><tspan x="2095" dy="15.45">，发展幼儿基本动作，培养幼儿对体育活动的</tspan><tspan x="2095" dy="15.45">兴趣是素质教育的目标之一。我班根据幼儿年</tspan><tspan x="2095" dy="15.45">龄特点开展各种生动趣味的体育活动。如：《</tspan><tspan x="2095" dy="15.45">袋鼠跳》、《小蚂蚁》、《跳格子》等，供给</tspan><tspan x="2095" dy="15.45">了皮球、花镖、拉力器、彩带等玩具材料，并</tspan><tspan x="2095" dy="15.45">借鉴"三浴"实验，利用阳光、空气、水等自然</tspan><tspan x="2095" dy="15.45">因素对幼儿进行锻炼。同时，还培养了幼儿不</tspan><tspan x="2095" dy="15.45">怕困难，坚强勇敢等良好心理品质。并且，在</tspan><tspan x="2095" dy="15.45">实施教育的过程中，注重保教结合的原则，使</tspan><tspan x="2095" dy="15.45">教育自然渗透于各项活动中。培养幼儿热爱家</tspan><tspan x="2095" dy="15.45">乡的情感，教育幼儿爱班，爱同伴，并针对安</tspan><tspan x="2095" dy="15.45">全教育，开展一系列活动，如走失了怎样办发</tspan><tspan x="2095" dy="15.45">生火灾地震怎样办手受伤了，流鼻血了怎样办</tspan><tspan x="2095" dy="15.45">等，逐步增强了幼儿自我保护意识，提高自救</tspan><tspan x="2095" dy="15.45">自我保护的本事。</tspan></text></g>
<g id="p4-2"><text x="1880" y="2217.5">二、培养幼儿自理本事，促进幼儿自身发展。</text></g>
<g id="p4-2a"><text x="2155.5" y="2101.5"><tspan x="2155.5" dy="0">凡儿童自我能做的应当让他们自我做，凡儿童</tspan><tspan x="2155.5" dy="15.45">自我能想的应当让他们自我想。培养幼儿的自</tspan><tspan x="2155.5" dy="15.45">理本事，让幼儿自我的事情自我做，也是幼儿</tspan><tspan x="2155.5" dy="15.45">自身发展的需要。从不会扣扣子的到喜欢铺桌</tspan><tspan x="2155.5" dy="15.45">布，孩子想做的事情越来越多了，所以，小小</tspan><tspan x="2155.5" dy="15.45">值日生就这样产生了。教师需教给幼儿一些技</tspan><tspan x="2155.5" dy="15.45">能，但又不能采取简单、生硬的办法___幼儿</tspan><tspan x="2155.5" dy="15.45">学习。于是，我们采取寓教于乐的方式，让幼</tspan><tspan x="2155.5" dy="15.45">儿在游戏中学习，如"我是能干的值日生"、有</tspan><tspan x="2155.5" dy="15.45">时也让幼儿扮演成"妈妈"，锻炼幼儿刷牙、迅</tspan><tspan x="2155.5" dy="15.45">速整理仪表等生活自理本事。在游戏中，一首</tspan><tspan x="2155.5" dy="15.45">首自理儿歌幼儿朗朗上口，同时也掌握了必须</tspan><tspan x="2155.5" dy="15.45">的技能。再次，我们还进取向家长介绍培养幼</tspan><tspan x="2155.5" dy="15.45">儿生活自理本事的重要性和具体方法，得到了</tspan><tspan x="2155.5" dy="15.45">家长的支持。就这样我们强化了幼儿的生活自</tspan><tspan x="2155.5" dy="15.45">理意识，使之逐渐构成自动化的习惯。</tspan></text></g>
<g id="p4-3"><text x="1880" y="2456.5"><tspan x="1880" dy="0">三、创设与素质教育相适应的环境，促进幼儿</tspan><tspan x="1880" dy="15.5">全面和谐的发展</tspan></text></g>
<g id="p4-3a"><text x="2155.5" y="2387"><tspan x="2155.5" dy="0">环境有着教育人的作用，在强化环境的教育作</tspan><tspan x="2155.5" dy="15.45">用时，我班创设了创作区、，聊天室、小舞台</tspan><tspan x="2155.5" dy="15.45">、建筑工地、宝宝花园、聪明区等，并定时更</tspan><tspan x="2155.5" dy="15.45">换材料，引导幼儿增加玩法，美化材料，提高</tspan><tspan x="2155.5" dy="15.45">练习难度，使幼儿对区角活动充满兴趣;为了</tspan><tspan x="2155.5" dy="15.45">扩大幼儿的活动范围，我们尝试进行平行班互</tspan><tspan x="2155.5" dy="15.45">动，与其他班级幼儿玩具共享，这样有利于各</tspan><tspan x="2155.5" dy="15.45">种教育资源的有机整和合和相互渗透，有效的</tspan><tspan x="2155.5" dy="15.45">提高了幼儿参与活动的主动性、进取性，促进</tspan><tspan x="2155.5" dy="15.45">了幼儿创造力和个性的发展，培养幼儿良好的</tspan><tspan x="2155.5" dy="15.45">社会交往和合作本事。</tspan></text></g>
<g id="p4-4"><text x="1880" y="2738">四、在艺术教育中培养幼儿的创造性。</text></g>
<g id="p4-4a"><text x="2119" y="2596.5"><tspan x="2119" dy="0">本班以舞蹈艺术教育为特色，它有助于引导幼</tspan><tspan x="2119" dy="15.5">儿认识世界，培养高雅的气质，发展幼儿的观</tspan><tspan x="2119" dy="15.5">察力、思维想象力及创造力、表现力。</tspan></text></g>
<g id="p4-4b"><text x="2119" y="2680"><tspan x="2119" dy="0">1)在音乐活动中我们为幼儿供给更多的探索、</tspan><tspan x="2119" dy="15.5">创造的机会，大胆放手让幼儿参与创编动作。</tspan><tspan x="2119" dy="15.5">如，在学习舞蹈步伐时，教师的一句启发语言</tspan><tspan x="2119" dy="15.5">：谁来跳一跳，说说你跳的与教师的有什么不</tspan><tspan x="2119" dy="15.5">一样，你的小脚丫在说什么，它想告诉我们什</tspan><tspan x="2119" dy="15.5">么呢这样激发了幼儿的思维及参与意识，使幼</tspan><tspan x="2119" dy="15.5">儿在愉快、和谐、简便的气氛中更加勤于思考</tspan><tspan x="2119" dy="15.5">，勇于创新，真正成为学习的主人。</tspan></text></g>
<g id="p4-4c"><text x="2119" y="2841.5"><tspan x="2119" dy="0">2)激发创造动机，适时引导。创造动机是创造</tspan><tspan x="2119" dy="15.5">思维的动力，所以，教师要精心设计每项活动</tspan><tspan x="2119" dy="15.5">，使其富趣味味性，吸引幼儿学习，激发幼儿</tspan><tspan x="2119" dy="15.5">进取、主动的参与活动。</tspan></text></g>
<g id="p4-5"><text x="1880" y="2979.5">五、教研工作</text></g>
<g id="p4-5a"><text x="1986" y="2942.5"><tspan x="1986" dy="0">我班两位教师能认真参加学园及年段的教研活</tspan><tspan x="1986" dy="15.5">动，学园的教研课题《探索培养幼儿艺术表现</tspan><tspan x="1986" dy="15.5">力的途径》，本班两位教师认真学习有关书籍</tspan><tspan x="1986" dy="15.5">和文章。根据幼儿的需要及时调整活动课程及</tspan><tspan x="1986" dy="15.5">目标。在教育教学过程中，我们供给的材料，</tspan><tspan x="1986" dy="15.5">给幼儿自由的空间。</tspan></text></g>
<g id="p4-6"><text x="1880" y="3110">六、家长工作</text></g>
<g id="p4-6a"><text x="1986" y="3071.5"><tspan x="1986" dy="0">我班家长尊重、信赖教师，以进取正确的教育</tspan><tspan x="1986" dy="15.5">观引导幼儿到达家园教育同步。教师主动向家</tspan><tspan x="1986" dy="15.5">长宣传科学保育教育幼儿的义务。由于家长的</tspan><tspan x="1986" dy="15.5">水平不一样，要求也不一样。为了统一认识，</tspan><tspan x="1986" dy="15.5">统一教育，鼓励家长多写育儿经验的文章，多</tspan><tspan x="1986" dy="15.5">交流。</tspan></text></g>
<g id="p4-7"><text x="1880" y="3318">七、存在不足</text></g>
<g id="p4-7a"><text x="1986" y="3202.5"><tspan x="1986" dy="0">1、本班幼儿基本养成了良好的卫生习惯，但</tspan><tspan x="1986" dy="15.5">个别幼儿尚未养成。(如：吮吸手指头、摇椅</tspan><tspan x="1986" dy="15.5">子、跪坐地板等)</tspan></text></g>
<g id="p4-7b"><text x="1986" y="3286.5"><tspan x="1986" dy="0">2、大部分幼儿大方、活泼，但个别幼儿倾听</tspan><tspan x="1986" dy="15.5">习惯较差，显得异常好动，不能很好地遵守活</tspan><tspan x="1986" dy="15.5">动规则。</tspan></text></g>
<g id="p4-7c"><text x="1986" y="3394.5"><tspan x="1986" dy="0">3、幼儿的礼貌教育在今后工作中还需进一步</tspan><tspan x="1986" dy="15.5">加强，如入园时主动问好、主动与别人打招呼</tspan><tspan x="1986" dy="15.5">，学会使用简单的礼貌用语"请、多谢、对不</tspan><tspan x="1986" dy="15.5">起、没关系"。</tspan></text></g>
<g id="p4-7c1"><text x="2261.5" y="3370.5"><tspan x="2261.5" dy="0">教育是多角度的全方位的教育，</tspan><tspan x="2261.5" dy="15.5">仅是迈出了万里长征的第一步，</tspan><tspan x="2261.5" dy="15.5">一步学习与研究，一步一个脚印</tspan><tspan x="2261.5" dy="15.5">每项工作，使我班的孩子身心健</tspan><tspan x="2261.5" dy="15.5">具备良好的身体素质，良好的心</tspan><tspan x="2261.5" dy="15.5">的品德素质，良好的审美素质，</tspan><tspan x="2261.5" dy="15.5">全面发展的儿童。</tspan></text></g>

<g id="rel"><rect class="n" x="1620" y="3726" width="296" height="56" rx="28"/><text class="h" x="1648" y="3748.5"><tspan x="1648" dy="0">数学中班上学期教学总结相关文章</tspan><tspan x="1651" dy="22">：</tspan></text></g>
<g id="rel-1"><text x="1946" y="3517.5">★ 中班数学排排队教学反思10篇范文</text></g>
<g id="rel-2"><text x="1946" y="3570.5">★ 数学教学总结反思最新5篇</text></g>
<g id="rel-3"><text x="1946" y="3623.5">★ 中班教师工作总结范文通用10篇</text></g>
<g id="rel-4"><text x="1946" y="3677.5">★ 中班教师工作总结范文10篇</text></g>
<g id="rel-5"><text x="1946" y="3730.5">★ 中班数学活动反思6篇</text></g>
<g id="rel-6"><text x="1946" y="3784">★ 幼儿园中班学期工作总结模板5篇</text></g>
<g id="rel-7"><text x="1946" y="3837.5">★ 幼儿园中班数学教案精选5篇</text></g>
<g id="rel-8"><text x="1946" y="3890.5">★ 幼儿园中班认识图形数学教案四篇</text></g>
<g id="rel-9"><text x="1946" y="3944.5">★ 2021年幼儿数学的教学反思五篇</text></g>
<g id="rel-10"><text x="1946" y="3997.5">★ 中班班级工作总结范文最新10篇</text></g>
</svg>
